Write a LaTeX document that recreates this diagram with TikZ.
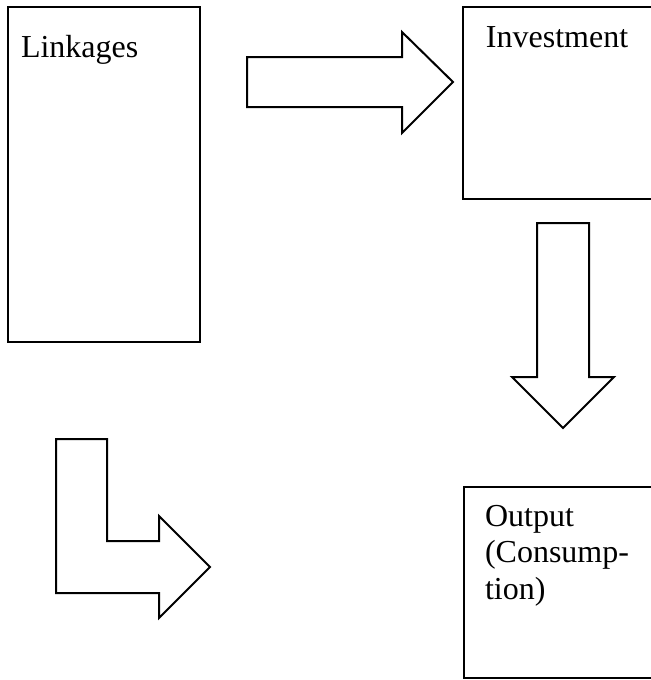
\documentclass[tikz,border=0pt]{standalone}
\usepackage{fontspec}
\setmainfont{Liberation Serif}
\begin{document}
\begin{tikzpicture}[x=0.375pt,y=-0.375pt,line width=0.75pt,
    boxtext/.style={anchor=base west,inner sep=0pt,align=left,
      font=\fontsize{12}{13.6}\selectfont}]
    \useasboundingbox (0,0) rectangle (651,680);
    \clip (0,0) rectangle (651,680);
    \fill[white] (0,0) rectangle (651,680);

    % Boxes (the two on the right run past the page edge)
    \draw (8,7) rectangle (200,342);
    \draw (463,7) rectangle (660,199);
    \draw (464,487) rectangle (660,678);

    % Box texts (multi-line node is placed by its last baseline)
    \node[boxtext] (linkages) at (20,57) {Linkages};
    \node[boxtext] (investment) at (485,47) {Investment};
    \node[boxtext] (output) at (484,599) {Output\\(Consump-\\tion)};

    % Block arrows
    \draw (247,57) -- (402,57) -- (402,32) -- (453,82) -- (402,133)
      -- (402,107) -- (247,107) -- cycle;
    \draw (537,223) -- (589,223) -- (589,377) -- (614,377) -- (563,428)
      -- (512,377) -- (537,377) -- cycle;
    \draw (56,439) -- (107,439) -- (107,541) -- (159,541) -- (159,516)
      -- (210,567) -- (159,618) -- (159,593) -- (56,593) -- cycle;
\end{tikzpicture}
\end{document}
